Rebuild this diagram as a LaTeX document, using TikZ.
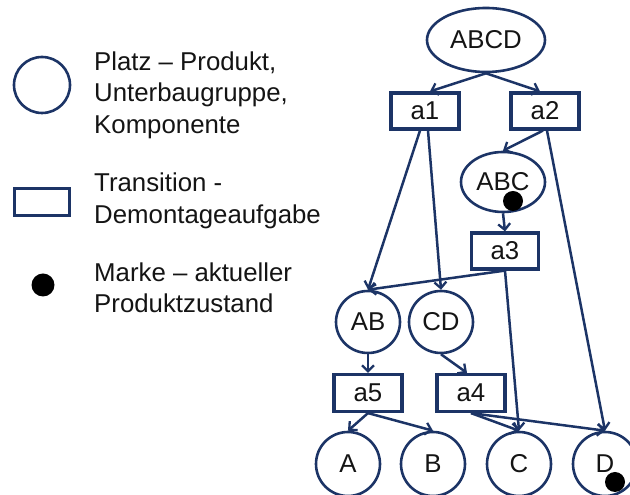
\documentclass[tikz,border=0pt]{standalone}
\usepackage{fontspec}
\setmainfont{Liberation Sans}
\usetikzlibrary{shapes.geometric,arrows.meta}
\definecolor{navy}{RGB}{28,52,102}
\definecolor{ink}{RGB}{20,20,20}
\begin{document}
\begin{tikzpicture}[x=1pt,y=1pt,
  lbl/.style={font=\fontsize{25.8}{31.5}\selectfont,text=ink},
  place/.style={ellipse,draw=navy,line width=2.6pt,inner sep=0,lbl},
  trans/.style={rectangle,draw=navy,line width=3.2pt,inner sep=0,lbl},
  token/.style={circle,fill=black,inner sep=0,minimum size=20pt},
  legtxt/.style={lbl,align=left,anchor=west,inner sep=0},
  arc/.style={draw=navy,line width=2.5pt,-{Straight Barb[length=6pt,width=12pt,line width=2.3pt]}}]
\useasboundingbox (0,0) rectangle (630,495);

% places
\node[place,minimum width=118pt,minimum height=64pt] (ABCD) at (486,455) {ABCD};
\node[place,minimum width=84pt,minimum height=60pt] (ABC) at (503,313) {ABC};
\node[place,minimum width=64pt,minimum height=62pt] (AB) at (368,173) {AB};
\node[place,minimum width=64pt,minimum height=62pt] (CD) at (441,173) {CD};
\node[place,minimum width=64pt,minimum height=64pt] (A) at (348,31) {A};
\node[place,minimum width=64pt,minimum height=64pt] (B) at (433,31) {B};
\node[place,minimum width=64pt,minimum height=64pt] (C) at (519,31) {C};
\node[place,minimum width=64pt,minimum height=64pt] (D) at (605,31) {D};

% transitions
\node[trans,minimum width=68pt,minimum height=36pt] (a1) at (425,384) {a1};
\node[trans,minimum width=68pt,minimum height=36pt] (a2) at (545,384) {a2};
\node[trans,minimum width=67pt,minimum height=36pt] (a3) at (505,244) {a3};
\node[trans,minimum width=68pt,minimum height=37pt] (a5) at (368,102) {a5};
\node[trans,minimum width=68pt,minimum height=37pt] (a4) at (471,102) {a4};

% tokens
\node[token] (t1) at (513,294) {};
\node[token] (t2) at (615,13) {};

% arcs
\draw[arc] (ABCD.south) -- ([xshift=5pt]a1.north);
\draw[arc] (ABCD.south) -- ([xshift=-5pt]a2.north);
\draw[arc] ([xshift=-2pt]a2.south) -- (ABC.north);
\draw[arc] ([xshift=2pt]a2.south) -- (D.north);
\draw[arc] ([xshift=-5pt]a1.south) -- (AB.north);
\draw[arc] ([xshift=3pt]a1.south) -- (CD.north);
\draw[arc] (ABC.south) -- (a3.north);
\draw[arc] (a3.south) -- (AB.north);
\draw[arc] (a3.south) -- (C.north);
\draw[arc] (AB.south) -- (a5.north);
\draw[arc] (CD.south) -- ([xshift=-4pt]a4.north);
\draw[arc] (a5.south) -- (A.north);
\draw[arc] (a5.south) -- (B.north);
\draw[arc] (a4.south) -- (C.north);
\draw[arc] (a4.south) -- (D.north);

% legend
\node[draw=navy,line width=2.6pt,circle,minimum size=56pt,inner sep=0] (lp) at (42,410) {};
\node[draw=navy,line width=2.6pt,rectangle,minimum width=55pt,minimum height=27pt,inner sep=0] (lt) at (42,293) {};
\node[circle,fill=black,minimum size=23pt,inner sep=0] (lm) at (43,210) {};
\node[legtxt] (lpt) at (94,400) {Platz -- Produkt,\\Unterbaugruppe,\\Komponente};
\node[legtxt] (ltt) at (94,294) {Transition -\\Demontageaufgabe};
\node[legtxt] (lmt) at (94,207) {Marke -- aktueller\\Produktzustand};
\end{tikzpicture}
\end{document}
